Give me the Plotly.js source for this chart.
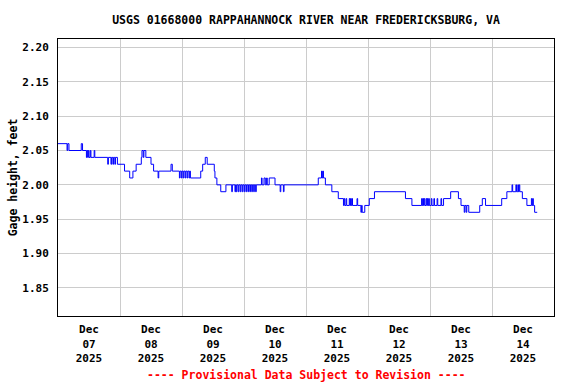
<!DOCTYPE html>
<html>
<head>
<meta charset="utf-8">
<script src="https://cdn.plot.ly/plotly-3.0.1.min.js"></script>
<style>html,body{margin:0;padding:0;background:#fff;}#chart{width:576px;height:384px;}</style>
</head>
<body>
<div id="chart"></div>
<script>
// Gage height readings (change points; each value holds until the next time)
var times = [
"2025-12-07 00:00","2025-12-07 03:30","2025-12-07 03:45","2025-12-07 04:15","2025-12-07 09:00","2025-12-07 09:30",
"2025-12-07 11:00","2025-12-07 11:15","2025-12-07 11:30","2025-12-07 11:45","2025-12-07 12:00","2025-12-07 12:30",
"2025-12-07 12:45","2025-12-07 14:00","2025-12-07 14:15","2025-12-07 19:15","2025-12-07 19:30","2025-12-07 20:30",
"2025-12-07 20:45","2025-12-07 21:15","2025-12-07 21:30","2025-12-07 22:00","2025-12-07 22:15","2025-12-07 23:00",
"2025-12-08 01:45","2025-12-08 03:45","2025-12-08 05:00","2025-12-08 06:15","2025-12-08 08:15","2025-12-08 08:30",
"2025-12-08 09:00","2025-12-08 09:15","2025-12-08 10:00","2025-12-08 12:00","2025-12-08 13:00","2025-12-08 14:45",
"2025-12-08 15:00","2025-12-08 19:45","2025-12-08 20:15","2025-12-08 23:00","2025-12-08 23:15","2025-12-08 23:45",
"2025-12-09 00:00","2025-12-09 00:30","2025-12-09 00:45","2025-12-09 01:15","2025-12-09 01:30","2025-12-09 02:00",
"2025-12-09 02:15","2025-12-09 02:45","2025-12-09 03:00","2025-12-09 03:15","2025-12-09 07:15","2025-12-09 08:00",
"2025-12-09 09:00","2025-12-09 09:45","2025-12-09 12:30","2025-12-09 12:45","2025-12-09 13:30","2025-12-09 15:00",
"2025-12-09 17:00","2025-12-09 19:15","2025-12-09 19:30","2025-12-09 20:30","2025-12-09 20:45","2025-12-09 21:00",
"2025-12-09 21:15","2025-12-09 21:45","2025-12-09 22:00","2025-12-09 22:30","2025-12-09 22:45","2025-12-09 23:15",
"2025-12-09 23:30","2025-12-10 00:00","2025-12-10 00:15","2025-12-10 00:45","2025-12-10 01:00","2025-12-10 01:30",
"2025-12-10 01:45","2025-12-10 02:15","2025-12-10 02:30","2025-12-10 03:00","2025-12-10 03:15","2025-12-10 03:45",
"2025-12-10 04:00","2025-12-10 04:30","2025-12-10 04:45","2025-12-10 06:45","2025-12-10 07:00","2025-12-10 07:45",
"2025-12-10 08:15","2025-12-10 08:45","2025-12-10 09:00","2025-12-10 09:45","2025-12-10 12:00","2025-12-10 14:00",
"2025-12-10 14:15","2025-12-10 15:15","2025-12-10 15:30","2025-12-11 04:45","2025-12-11 06:00","2025-12-11 06:15",
"2025-12-11 06:30","2025-12-11 06:45","2025-12-11 07:30","2025-12-11 10:00","2025-12-11 12:30","2025-12-11 14:30",
"2025-12-11 14:45","2025-12-11 15:00","2025-12-11 15:30","2025-12-11 15:45","2025-12-11 16:45","2025-12-11 17:00",
"2025-12-11 17:15","2025-12-11 17:30","2025-12-11 17:45","2025-12-11 18:00","2025-12-11 19:45","2025-12-11 20:00",
"2025-12-11 21:15","2025-12-11 21:30","2025-12-11 21:45","2025-12-11 22:45","2025-12-12 00:30","2025-12-12 02:30",
"2025-12-12 14:30","2025-12-12 17:00","2025-12-12 20:45","2025-12-12 21:00","2025-12-12 21:15","2025-12-12 21:30",
"2025-12-12 21:45","2025-12-12 22:00","2025-12-12 22:30","2025-12-12 22:45","2025-12-12 23:00","2025-12-12 23:15",
"2025-12-12 23:30","2025-12-12 23:45","2025-12-13 00:30","2025-12-13 00:45","2025-12-13 01:30","2025-12-13 01:45",
"2025-12-13 02:45","2025-12-13 03:00","2025-12-13 04:15","2025-12-13 04:30","2025-12-13 05:15","2025-12-13 08:00",
"2025-12-13 11:00","2025-12-13 12:00","2025-12-13 13:15","2025-12-13 13:30","2025-12-13 14:00","2025-12-13 14:15",
"2025-12-13 15:00","2025-12-13 19:15","2025-12-13 20:15","2025-12-13 21:30","2025-12-14 03:45","2025-12-14 05:45",
"2025-12-14 07:45","2025-12-14 08:00","2025-12-14 09:15","2025-12-14 09:30","2025-12-14 10:00","2025-12-14 10:15",
"2025-12-14 10:30","2025-12-14 10:45","2025-12-14 11:45","2025-12-14 13:30","2025-12-14 15:15","2025-12-14 15:30",
"2025-12-14 15:45","2025-12-14 16:00","2025-12-14 16:30","2025-12-14 17:30"
];
var gageHeight = [
2.06,2.05,2.06,2.05,2.06,2.05,
2.04,2.05,2.04,2.05,2.04,2.05,
2.04,2.05,2.04,2.03,2.04,2.03,
2.04,2.03,2.04,2.03,2.04,2.03,
2.02,2.01,2.02,2.03,2.04,2.05,
2.04,2.05,2.04,2.03,2.02,2.01,
2.02,2.03,2.02,2.01,2.02,2.01,
2.02,2.01,2.02,2.01,2.02,2.01,
2.02,2.01,2.02,2.01,2.02,2.03,
2.04,2.03,2.02,2.01,2.00,1.99,
2.00,1.99,2.00,1.99,2.00,1.99,
2.00,1.99,2.00,1.99,2.00,1.99,
2.00,1.99,2.00,1.99,2.00,1.99,
2.00,1.99,2.00,1.99,2.00,1.99,
2.00,1.99,2.00,2.01,2.00,2.01,
2.00,2.01,2.00,2.01,2.00,1.99,
2.00,1.99,2.00,2.01,2.02,2.01,
2.02,2.01,2.00,1.99,1.98,1.97,
1.98,1.97,1.98,1.97,1.98,1.97,
1.98,1.97,1.98,1.97,1.98,1.97,
1.96,1.97,1.96,1.97,1.98,1.99,
1.98,1.97,1.98,1.97,1.98,1.97,
1.98,1.97,1.98,1.97,1.98,1.97,
1.98,1.97,1.98,1.97,1.98,1.97,
1.98,1.97,1.98,1.97,1.98,1.99,
1.98,1.97,1.96,1.97,1.96,1.97,
1.96,1.97,1.98,1.97,1.98,1.99,
2.00,1.99,2.00,1.99,2.00,1.99,
2.00,1.99,1.98,1.97,1.98,1.97,
1.98,1.97,1.96,1.96
];

var yTickVals = [1.85, 1.90, 1.95, 2.00, 2.05, 2.10, 2.15, 2.20];
var yTickText = ["1.85","1.90","1.95","2.00","2.05","2.10","2.15","2.20"];
var xTickVals = ["2025-12-07 12:00","2025-12-08 12:00","2025-12-09 12:00","2025-12-10 12:00",
                 "2025-12-11 12:00","2025-12-12 12:00","2025-12-13 12:00","2025-12-14 12:00"];
var xTickText = ["Dec<br>07<br>2025","Dec<br>08<br>2025","Dec<br>09<br>2025","Dec<br>10<br>2025",
                 "Dec<br>11<br>2025","Dec<br>12<br>2025","Dec<br>13<br>2025","Dec<br>14<br>2025"];
var titleText = "USGS 01668000 RAPPAHANNOCK RIVER NEAR FREDERICKSBURG, VA";
var yTitle = "Gage height, feet";
var footer = "---- Provisional Data Subject to Revision ----";

var FONT = "DejaVu Sans Mono, Liberation Mono, monospace";

var trace = {
  x: times, y: gageHeight, type: 'scatter', mode: 'lines',
  line: {color: '#0000ff', width: 1, shape: 'hv'},
  hoverinfo: 'x+y'
};

var layout = {
  width: 576, height: 384,
  margin: {l: 58, r: 22, t: 39, b: 68, pad: 0},
  paper_bgcolor: '#ffffff', plot_bgcolor: '#ffffff',
  showlegend: false,
  title: {text: '<b>' + titleText + '</b>', x: 0.5, xref: 'paper', xanchor: 'center',
          y: 1 - 20/384, yref: 'container', yanchor: 'middle',
          font: {family: FONT, size: 11.5, color: '#000000'}},
  xaxis: {
    type: 'date',
    range: ['2025-12-07 00:00', '2025-12-15 00:00'],
    tickmode: 'array', tickvals: xTickVals, ticktext: xTickText.map(function(t){return '<b>'+t+'</b>';}),
    ticks: '', ticklabelstandoff: 3, showgrid: false, zeroline: false,
    showline: true, linecolor: '#000000', linewidth: 1, mirror: true,
    tickfont: {family: FONT, size: 11, color: '#000000'},
    minor: {tickmode: 'linear', tick0: '2025-12-07 00:00', dtick: 86400000, showgrid: true,
            gridcolor: '#cccccc', gridwidth: 1, ticks: ''},
    fixedrange: true
  },
  yaxis: {
    range: [1.809, 2.2124],
    tickmode: 'array', tickvals: yTickVals, ticktext: yTickText.map(function(t){return '<b>'+t+'</b>';}),
    ticks: '', ticklabelstandoff: 6,
    showgrid: true, gridcolor: '#cccccc', gridwidth: 1, zeroline: false,
    showline: true, linecolor: '#000000', linewidth: 1, mirror: true,
    tickfont: {family: FONT, size: 11, color: '#000000'},
    title: {text: '<b>' + yTitle + '</b>', font: {family: FONT, size: 11.5, color: '#000000'}, standoff: 2},
    fixedrange: true
  },
  annotations: [{
    text: '<b>' + footer + '</b>', xref: 'paper', yref: 'paper', x: 0.5, y: (316-375)/277,
    xanchor: 'center', yanchor: 'middle', showarrow: false,
    font: {family: FONT, size: 11.5, color: '#ff0000'}
  }]
};

Plotly.newPlot('chart', [trace], layout, {displayModeBar: false, staticPlot: true});
</script>
</body>
</html>
